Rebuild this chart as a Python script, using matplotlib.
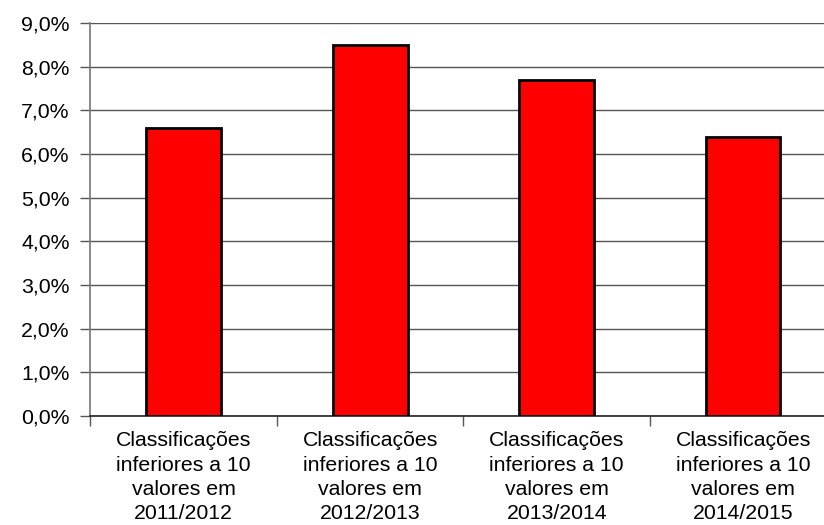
import matplotlib.pyplot as plt
from matplotlib.ticker import FuncFormatter, FixedLocator

plt.rcParams['font.family'] = ['Liberation Sans', 'DejaVu Sans']

categories = [
    "Classificações\ninferiores a 10\nvalores em\n2011/2012",
    "Classificações\ninferiores a 10\nvalores em\n2012/2013",
    "Classificações\ninferiores a 10\nvalores em\n2013/2014",
    "Classificações\ninferiores a 10\nvalores em\n2014/2015",
]
values = [6.6, 8.5, 7.7, 6.4]

fig = plt.figure(figsize=(8.24, 5.25), dpi=100)
# plot area runs slightly past the right edge of the image, like the original
ax = fig.add_axes([0.1098, 0.2076, 0.9053, 0.7484])

x = range(len(values))
ax.bar(x, values, width=0.40, color='#ff0000', edgecolor='black', linewidth=2, zorder=3)

ax.set_xlim(-0.5, len(values) - 0.5)
ax.set_ylim(0, 9)
ax.set_yticks([i for i in range(10)])
ax.yaxis.set_major_formatter(FuncFormatter(lambda v, p: f"{v:.1f}%".replace('.', ',')))
ax.yaxis.grid(True, color='#555555', linewidth=1, zorder=0)

# category labels centered, ticks at boundaries
ax.set_xticks(list(x))
ax.set_xticklabels(categories, fontsize=15.3, linespacing=1.36)
ax.tick_params(axis='x', which='major', length=0, pad=11)
ax.xaxis.set_minor_locator(FixedLocator([-0.5, 0.5, 1.5, 2.5, 3.5]))
ax.tick_params(axis='x', which='minor', length=7, width=1, color='#555555')
ax.tick_params(axis='y', length=7, width=1, color='#555555', labelsize=15.3, pad=8)

for s in ['top', 'right']:
    ax.spines[s].set_visible(False)
ax.spines['left'].set_color('#777777')
ax.spines['bottom'].set_color('#222222')
ax.spines['left'].set_linewidth(1.2)
ax.spines['bottom'].set_linewidth(1.2)

fig.savefig("out.png", dpi=100)
